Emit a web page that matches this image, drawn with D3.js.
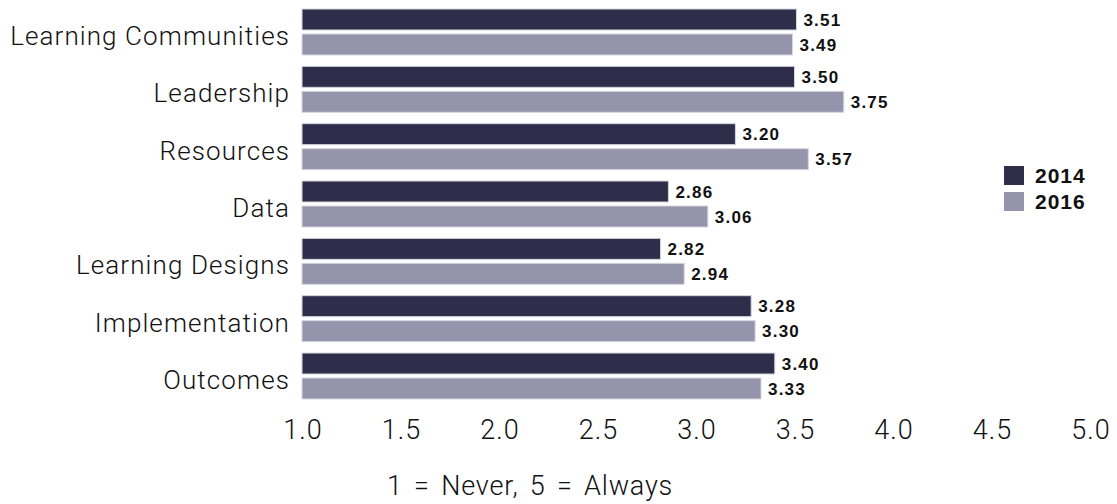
<!DOCTYPE html>
<html>
<head>
<meta charset="utf-8">
<script src="https://cdn.jsdelivr.net/npm/d3@7"></script>
<style>
  html, body { margin: 0; padding: 0; background: #fff; }
  svg { display: block; }
  .cat, .tick text, .note { font-family: Roboto, "Liberation Sans", sans-serif; font-weight: 300; fill: #111; }
  .val, .leg { font-family: "Liberation Sans", Arial, sans-serif; font-weight: bold; fill: #111; }
</style>
</head>
<body>
<svg id="chart" width="1117" height="504"></svg>
<script>
// Survey categories, top to bottom
const categories = ["Learning Communities", "Leadership", "Resources", "Data",
                    "Learning Designs", "Implementation", "Outcomes"];
const seriesNames = ["2014", "2016"];
const values2014 = [3.51, 3.50, 3.20, 2.86, 2.82, 3.28, 3.40];
const values2016 = [3.49, 3.75, 3.57, 3.06, 2.94, 3.30, 3.33];
const tickValues = [1.0, 1.5, 2.0, 2.5, 3.0, 3.5, 4.0, 4.5, 5.0];
const scaleNote = "1 = Never, 5 = Always";

const colors = { "2014": "#2e2e4b", "2016": "#9594ad" };

const rows = categories.map((c, i) => ({
  category: c,
  values: [
    { series: "2014", value: values2014[i] },
    { series: "2016", value: values2016[i] }
  ]
}));

const svg = d3.select("#chart");

const x = d3.scaleLinear().domain([1, 5]).range([302, 1090]);
const y = d3.scaleBand().domain(categories).range([9, 399]).paddingInner(0.198).paddingOuter(0);
const yInner = d3.scaleBand().domain(seriesNames).range([0, y.bandwidth()]).paddingInner(0.16);

const groups = svg.append("g").selectAll("g")
  .data(rows)
  .join("g")
  .attr("transform", d => `translate(0,${y(d.category)})`);

groups.selectAll("rect")
  .data(d => d.values)
  .join("rect")
  .attr("x", x(1))
  .attr("y", d => yInner(d.series))
  .attr("width", d => x(d.value) - x(1))
  .attr("height", yInner.bandwidth())
  .attr("fill", d => colors[d.series])
  .attr("stroke", "#d6d6df")
  .attr("stroke-width", 1);

groups.selectAll("text.val")
  .data(d => d.values)
  .join("text")
  .attr("class", "val")
  .attr("x", d => x(d.value) + 7)
  .attr("y", d => yInner(d.series) + yInner.bandwidth() / 2)
  .attr("dy", "0.36em")
  .attr("font-size", 17)
  .attr("letter-spacing", "1.2px")
  .text(d => d.value.toFixed(2));

// Category labels
svg.append("g").selectAll("text")
  .data(categories)
  .join("text")
  .attr("class", "cat")
  .attr("x", 290)
  .attr("y", d => y(d) + y.bandwidth() / 2 + 13)
  .attr("text-anchor", "end")
  .attr("font-size", 26)
  .attr("letter-spacing", "1.1px")
  .text(d => d);

// Value axis (labels only)
const axis = svg.append("g")
  .attr("transform", "translate(0,412)")
  .call(d3.axisBottom(x).tickValues(tickValues).tickFormat(d3.format(".1f")).tickSize(0).tickPadding(8));
axis.select(".domain").remove();
axis.selectAll(".tick text")
  .attr("font-size", 27)
  .attr("font-family", null)
  .attr("letter-spacing", "1px")
  .attr("dx", "0.5px");

svg.append("text")
  .attr("class", "note")
  .attr("x", 530)
  .attr("y", 495)
  .attr("text-anchor", "middle")
  .attr("font-size", 27)
  .attr("letter-spacing", "0.8px")
  .attr("word-spacing", "4px")
  .text(scaleNote);

// Legend
const legend = svg.append("g").attr("transform", "translate(1004,166)");
const li = legend.selectAll("g")
  .data(seriesNames)
  .join("g")
  .attr("transform", (d, i) => `translate(0,${i * 26})`);
li.append("rect")
  .attr("width", 20).attr("height", 19)
  .attr("fill", d => colors[d]);
li.append("text")
  .attr("class", "leg")
  .attr("x", 31).attr("y", 9.5).attr("dy", "0.36em")
  .attr("font-size", 21)
  .attr("letter-spacing", "1px")
  .text(d => d);
</script>
</body>
</html>
